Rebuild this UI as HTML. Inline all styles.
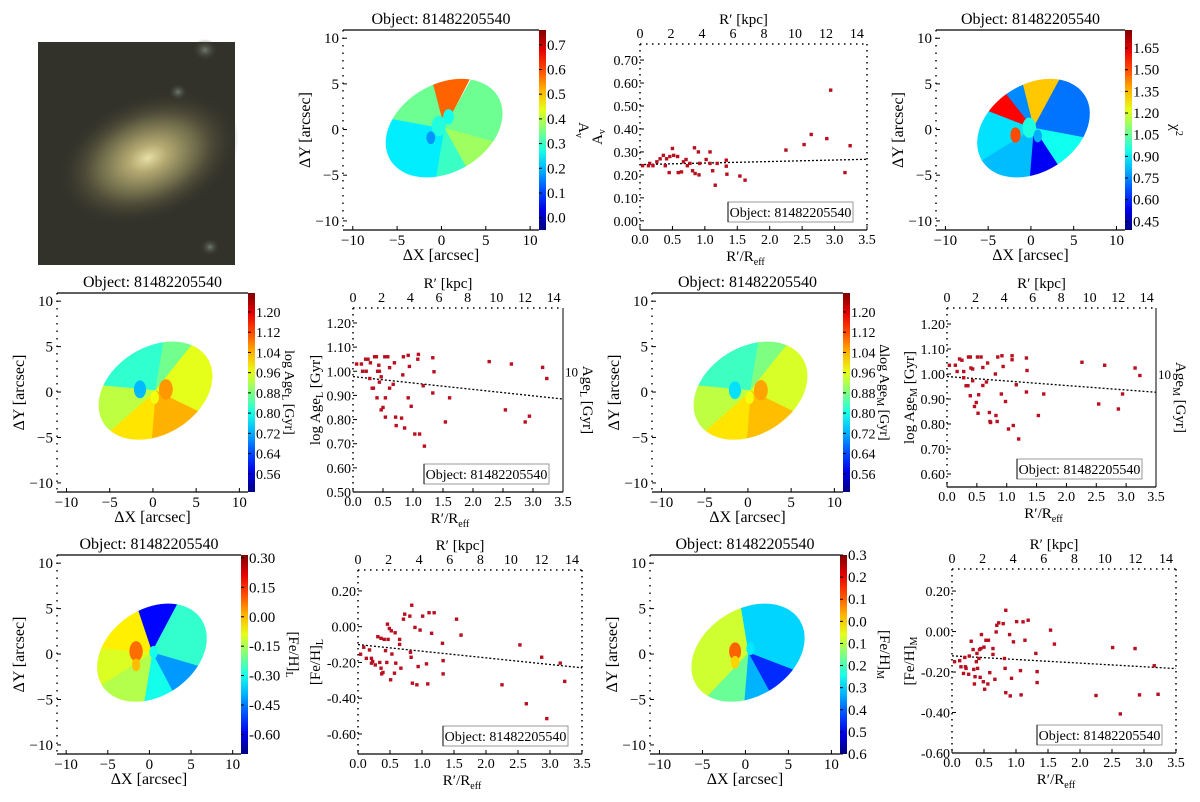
<!DOCTYPE html>
<html><head><meta charset="utf-8">
<style>
body{margin:0;background:#fff;}
svg{display:block;font-family:"Liberation Serif",serif;}
</style></head>
<body>
<svg id="fig" width="1200" height="802" viewBox="0 0 1200 802" xmlns="http://www.w3.org/2000/svg">
<defs>
<radialGradient id="galGrad" cx="50%" cy="50%" r="50%">
<stop offset="0%" stop-color="#e6dfa8"/>
<stop offset="20%" stop-color="#b5aa72"/>
<stop offset="55%" stop-color="#6a6748"/>
<stop offset="100%" stop-color="#343328" stop-opacity="0"/>
</radialGradient>
<radialGradient id="blobGrad" cx="50%" cy="50%" r="50%">
<stop offset="0%" stop-color="#6f7a72"/>
<stop offset="100%" stop-color="#343328" stop-opacity="0"/>
</radialGradient>
</defs>
<g>
<rect x="38" y="42" width="197" height="223" fill="#33322a"/>
<ellipse cx="148" cy="158" rx="95" ry="62" transform="rotate(-22 148 158)" fill="url(#galGrad)"/>
<ellipse cx="205" cy="50" rx="13" ry="11" fill="url(#blobGrad)"/>
<ellipse cx="178" cy="92" rx="10" ry="9" fill="url(#blobGrad)"/>
<ellipse cx="210" cy="247" rx="10" ry="9" fill="url(#blobGrad)"/>
</g>
</svg>
<script>
// ===== Scatter data =====
const avR=[0.04,0.13,0.15,0.2,0.26,0.31,0.36,0.39,0.41,0.45,0.46,0.5,0.52,0.58,0.59,0.64,0.67,0.71,0.73,0.77,0.81,0.84,0.85,0.9,0.91,0.92,1.02,1.08,1.08,1.12,1.16,1.19,1.33,1.33,1.34,1.54,1.62,2.25,2.53,2.64,2.88,2.94,3.16,3.24];
const avV=[0.24,0.24,0.25,0.24,0.257,0.27,0.285,0.24,0.27,0.21,0.28,0.315,0.285,0.28,0.21,0.213,0.257,0.267,0.24,0.25,0.218,0.318,0.206,0.3,0.2,0.25,0.267,0.3,0.25,0.218,0.155,0.25,0.264,0.238,0.203,0.195,0.177,0.308,0.332,0.376,0.358,0.569,0.21,0.327];
const avTrend=[0.245,0.268];
const avTicks=[0.00,0.10,0.20,0.30,0.40,0.50,0.60,0.70];

const ageLR=[0.06,0.14,0.16,0.21,0.22,0.25,0.29,0.28,0.32,0.34,0.36,0.39,0.41,0.4,0.43,0.44,0.44,0.47,0.47,0.5,0.53,0.54,0.54,0.58,0.61,0.61,0.67,0.69,0.71,0.72,0.81,0.83,0.84,0.86,0.92,0.92,0.94,0.97,1.03,1.08,1.09,1.11,1.17,1.19,1.33,1.33,1.35,1.61,1.54,2.27,2.54,2.64,2.87,2.94,3.16,3.23];
const ageLV=[1.03,1.03,1.0,1.05,1.0,1.05,1.035,0.97,0.93,0.93,1.06,1.06,1.0,0.89,1.025,1.0,0.955,0.977,0.84,0.85,1.06,0.81,0.89,1.06,1.015,0.93,0.946,1.035,0.81,0.775,0.806,0.985,1.06,0.765,0.89,1.066,1.02,0.855,0.74,1.05,1.07,0.74,0.94,0.69,1.056,0.91,0.998,0.89,0.79,1.04,0.84,1.03,0.79,0.814,1.016,0.97];
const ageLTrend=[0.978,0.885];
const ageLTicks=[0.50,0.60,0.70,0.80,0.90,1.00,1.10,1.20];

const ageMR=[0.04,0.14,0.17,0.21,0.25,0.28,0.28,0.32,0.35,0.36,0.39,0.39,0.4,0.43,0.43,0.46,0.49,0.51,0.52,0.53,0.57,0.6,0.6,0.66,0.68,0.71,0.72,0.73,0.81,0.82,0.84,0.85,0.91,0.92,0.94,0.98,1.03,1.09,1.09,1.11,1.16,1.2,1.33,1.33,1.34,1.53,1.62,2.26,2.54,2.64,2.87,2.94,3.15,3.23];
const ageMV=[1.035,1.035,1.01,1.06,1.055,1.01,0.985,0.953,0.953,1.068,1.068,0.913,1.024,1.02,0.973,0.87,0.886,1.068,0.843,0.917,1.068,0.954,1.026,0.968,1.044,0.846,0.81,0.806,1.0,0.834,0.81,1.068,0.92,1.073,1.03,0.89,0.78,1.073,1.057,0.794,0.957,0.74,1.064,0.928,1.014,0.834,0.92,1.047,0.88,1.035,0.86,0.92,1.024,0.994];
const ageMTrend=[0.99,0.927];
const ageMTicks=[0.60,0.70,0.80,0.90,1.00,1.10,1.20];

const fehLR=[0.04,0.09,0.13,0.18,0.21,0.21,0.23,0.27,0.31,0.34,0.36,0.36,0.37,0.39,0.41,0.43,0.45,0.46,0.47,0.49,0.51,0.52,0.53,0.57,0.58,0.59,0.65,0.65,0.67,0.71,0.73,0.81,0.82,0.83,0.84,0.85,0.89,0.92,0.94,0.97,1.01,1.07,1.09,1.11,1.15,1.19,1.32,1.33,1.33,1.54,1.61,2.25,2.53,2.63,2.87,2.95,3.16,3.23];
const fehLV=[-0.154,-0.115,-0.177,-0.13,-0.177,-0.204,-0.195,-0.214,-0.056,-0.2,-0.065,-0.232,-0.264,-0.256,-0.071,-0.134,-0.2,0.014,-0.071,-0.01,-0.297,-0.023,-0.153,-0.26,-0.034,-0.204,-0.071,-0.099,-0.232,0.042,0.07,0.059,-0.143,-0.171,0.12,-0.316,-0.004,-0.325,-0.223,-0.019,0.059,-0.208,-0.32,0.078,-0.037,0.078,-0.093,-0.19,-0.264,0.042,-0.047,-0.325,-0.102,-0.431,-0.171,-0.514,-0.204,-0.306];
const fehLTrend=[-0.1,-0.23];
const fehLTicks=[-0.60,-0.40,-0.20,0.00,0.20];

const fehMR=[0.04,0.12,0.14,0.18,0.2,0.21,0.22,0.26,0.27,0.3,0.33,0.34,0.35,0.36,0.38,0.39,0.4,0.42,0.43,0.44,0.45,0.46,0.49,0.5,0.51,0.53,0.56,0.57,0.59,0.64,0.64,0.67,0.69,0.7,0.73,0.8,0.82,0.83,0.84,0.84,0.9,0.91,0.93,0.96,1.01,1.07,1.08,1.11,1.14,1.19,1.31,1.33,1.33,1.54,1.6,2.25,2.51,2.63,2.86,2.93,3.16,3.22];
const fehMV=[-0.149,-0.144,-0.174,-0.207,-0.128,-0.174,-0.182,-0.211,-0.121,-0.048,-0.089,-0.187,-0.259,-0.223,-0.149,-0.108,-0.182,-0.133,-0.089,-0.226,-0.084,-0.015,-0.248,-0.077,-0.285,-0.043,-0.259,-0.043,-0.203,-0.113,-0.084,-0.236,-0.002,0.031,0.043,0.039,-0.133,-0.182,0.105,-0.302,-0.015,-0.318,-0.231,-0.051,0.049,-0.193,-0.313,0.048,-0.043,0.056,-0.108,-0.198,-0.252,0.007,-0.062,-0.316,-0.079,-0.407,-0.084,-0.313,-0.169,-0.31];
const fehMTrend=[-0.12,-0.183];
const fehMTicks=[-0.60,-0.40,-0.20,0.00,0.20];

const xTicks=[0.0,0.5,1.0,1.5,2.0,2.5,3.0,3.5];
const kpcTicks=[0,2,4,6,8,10,12,14];

// ===== Map data (sector angles in degrees, values in colour units) =====
const avSecA=[[62,105],[-15,62],[-60,-15],[-100,-60],[-190,-100],[105,170]];
const avSecV=[0.58,0.34,0.38,0.3,0.24,0.34];
const avBlobs=[[-0.3,0.4,0.8,0.28],[0.8,1.4,0.6,0.27],[-1.2,-0.9,0.5,0.17]];
const avCbTicks=[0.0,0.1,0.2,0.3,0.4,0.5,0.6,0.7];

const chiSecA=[[60,105],[-10,60],[-55,-10],[-95,-55],[-150,-95],[-200,-150],[130,160],[105,130]];
const chiSecV=[1.33,0.72,0.93,0.55,0.82,0.87,1.6,0.75];
const chiBlobs=[[-0.2,0.2,0.8,0.95],[-1.8,-0.6,0.6,1.5],[0.8,-0.7,0.5,0.8]];
const chiCbTicks=[0.45,0.60,0.75,0.90,1.05,1.20,1.35,1.50,1.65];

const ageLSecA=[[80,175],[50,80],[-25,50],[-95,-25],[-140,-95],[-185,-140]];
const ageLSecV=[0.82,0.87,0.96,1.04,1.0,0.93];
const ageLBlobs=[[-1.5,0.3,0.7,0.73],[1.5,0.3,0.8,1.06],[0.2,-0.6,0.5,0.97]];
const ageLCbTicks=[0.56,0.64,0.72,0.80,0.88,0.96,1.04,1.12,1.20];

const ageMSecA=[[80,175],[50,80],[-25,50],[-95,-25],[-140,-95],[-185,-140]];
const ageMSecV=[0.83,0.88,0.95,1.03,1.0,0.93];
const ageMBlobs=[[-1.5,0.2,0.7,0.76],[1.5,0.2,0.8,1.05],[0.2,-0.6,0.5,0.97]];
const ageMCbTicks=[0.56,0.64,0.72,0.80,0.88,0.96,1.04,1.12,1.20];

const fehLMapSecA=[[60,110],[-15,60],[-60,-15],[-100,-60],[-150,-100],[-185,-150],[110,175]];
const fehLMapSecV=[-0.57,-0.27,-0.42,-0.3,-0.14,-0.1,-0.05];
const fehLBlobs=[[-1.6,0.3,0.8,0.08],[-1.6,-1.2,0.5,0.0],[0.5,0.2,0.5,-0.3]];
const fehLCbTicks=[-0.60,-0.45,-0.30,-0.15,0.00,0.15,0.30];

const fehMMapSecA=[[-20,100],[-60,-20],[-95,-60],[-135,-95],[-260,-135]];
const fehMMapSecV=[-0.3,-0.45,-0.33,-0.17,-0.08];
const fehMBlobs=[[-1.2,0.3,0.7,0.1],[-1.2,-0.9,0.5,0.0],[0.6,0.6,0.5,-0.28]];
const fehMCbVals=[0.3,0.2,0.1,0.0,-0.1,-0.2,-0.3,-0.4,-0.5,-0.6];
const fehMCbLabels=["0.3","0.2","0.1","0.0","0.1","0.2","0.3","0.4","0.5","0.6"];

// ===== helpers =====
const NS="http://www.w3.org/2000/svg";
const fig=document.getElementById('fig');
function el(tag,attrs,parent){const e=document.createElementNS(NS,tag);for(const k in attrs)e.setAttribute(k,attrs[k]);(parent||fig).appendChild(e);return e;}
function txt(s,x,y,size,anchor,parent,extra){const t=el('text',Object.assign({x:x,y:y,'font-size':size,'text-anchor':anchor||'middle',fill:'#000'},extra||{}),parent);t.textContent=s;return t;}
function jet(t){t=Math.max(0,Math.min(1,t));const c=v=>Math.round(255*Math.max(0,Math.min(1,v)));
 return 'rgb('+c(1.5-Math.abs(4*t-3))+','+c(1.5-Math.abs(4*t-2))+','+c(1.5-Math.abs(4*t-1))+')';}
let gradId=0;

function scatter(c){
 const g=el('g',{});
 
 
 const sx=v=>c.x0+(v-0)/3.5*(c.x1-c.x0);
 const sy=v=>c.y1-(v-c.vmin)/(c.vmax-c.vmin)*(c.y1-c.y0);
 const sk=k=>c.x0+k/14.65*(c.x1-c.x0);
 el('line',{x1:c.x0,y1:c.y1,x2:c.x1,y2:c.y1,stroke:'#000','stroke-width':1.2},g);
 el('line',{x1:c.x0,y1:c.y0,x2:c.x1,y2:c.y0,stroke:'#000','stroke-width':1.5,'stroke-dasharray':'1.5,4.5'},g);
 el('line',{x1:c.x0,y1:c.y0,x2:c.x0,y2:c.y1,stroke:'#000','stroke-width':1.5,'stroke-dasharray':'1.5,4.5'},g);
 if(c.rightSolid){el('line',{x1:c.x1,y1:c.y0,x2:c.x1,y2:c.y1,stroke:'#000','stroke-width':1},g);}
 else el('line',{x1:c.x1,y1:c.y0,x2:c.x1,y2:c.y1,stroke:'#000','stroke-width':1.5,'stroke-dasharray':'1.5,4.5'},g);
 c.ticks.forEach(v=>{const y=sy(v);el('line',{x1:c.x0,y1:y,x2:c.x0+4,y2:y,stroke:'#000'},g);
  const t=txt(v.toFixed(2),c.x0-2,y+5,14,'end',g);});
 xTicks.forEach(v=>{const x=sx(v);el('line',{x1:x,y1:c.y1,x2:x,y2:c.y1-4,stroke:'#000'},g);
  const t=txt(v.toFixed(1),x,c.y1+14,14,'middle',g);});
 kpcTicks.forEach(v=>{const x=sk(v);
  const t=txt(String(v),x,c.y0-6,14,'middle',g);});
 let t=txt("R\u2032 [kpc]",(c.x0+c.x1)/2-10,c.y0-20,15,'middle',g);
 t=el('text',{x:(c.x0+c.x1)/2-8,y:c.y1+31,'font-size':15,'text-anchor':'middle'},g);
 t.innerHTML='R\u2032/R<tspan font-size="10" dy="4">eff</tspan>';
 
 const ly=(c.y0+c.y1)/2, lx=c.x0-(c.ylabOff||38);
 t=el('text',{x:lx,y:ly,'font-size':15,'text-anchor':'middle',transform:'rotate(-90 '+lx+' '+ly+')'},g);
 t.innerHTML=c.ylabel;
 if(c.rightLabel){
  t=txt('10',c.x1+2,sy(1.0)+5,13,'start',g);
  const rx=c.x1+20;
  t=el('text',{x:rx,y:ly,'font-size':15,'text-anchor':'middle',transform:'rotate(90 '+rx+' '+ly+')'},g);
  t.innerHTML=c.rightLabel;
 }
 const tl=el('line',{x1:sx(0),y1:sy(c.trend[0]),x2:sx(3.5),y2:sy(c.trend[1]),stroke:'#000','stroke-width':1.3,'stroke-dasharray':'2,2'},g);
 
 c.R.forEach((r,i)=>{const p=el('rect',{x:sx(r)-1.7,y:sy(c.V[i])-1.7,width:3.4,height:3.4,fill:'#b81020'},g);
  });
 const bw=125,bh=20,bx=c.x1-14-bw,by=c.y1-8-bh;
 const b=el('rect',{x:bx,y:by,width:bw,height:bh,fill:'#fff',stroke:'#999','stroke-width':1},g);
 
 el('line',{x1:bx,y1:by,x2:bx,y2:by+bh,stroke:'#000'},g);
 t=txt('Object: 81482205540',bx+bw/2,by+15,14,'middle',g);
}

function mapPanel(c){
 const g=el('g',{});
 
 
 const X0=-11.1,X1=11,Y0=-11,Y1=10.9;
 const px=v=>c.x0+(v-X0)/(X1-X0)*(c.x1-c.x0);
 const py=v=>c.y1-(v-Y0)/(Y1-Y0)*(c.y1-c.y0);
 const cn=(v)=> (v-c.cmin)/(c.cmax-c.cmin);
 const id='clip'+(gradId++);
 const cp=el('clipPath',{id:id},g);
 const ecx=0.3,ecy=0.15,a=7.0,bb=4.85,ang=28*Math.PI/180;
 const pts=[];for(let k=0;k<72;k++){const t=k/72*2*Math.PI;const ex=a*Math.cos(t),ey=bb*Math.sin(t);
  pts.push(px(ecx+ex*Math.cos(ang)-ey*Math.sin(ang))+','+py(ecy+ex*Math.sin(ang)+ey*Math.cos(ang)));}
 el('polygon',{points:pts.join(' ')},cp);
 const mg=el('g',{'clip-path':'url(#'+id+')'},g);
 c.secA.forEach((s,i)=>{const ps=[px(ecx)+','+py(ecy)];
  for(let d=s[0];d<=s[1]+0.01;d+=2.5){const r=d*Math.PI/180;ps.push(px(ecx+20*Math.cos(r))+','+py(ecy+20*Math.sin(r)));}
  const w=el('polygon',{points:ps.join(' '),fill:jet(cn(c.secV[i])),stroke:jet(cn(c.secV[i])),'stroke-width':0.8},mg);
  });
 c.blobs.forEach(b=>{const e=el('ellipse',{cx:px(b[0]),cy:py(b[1]),rx:px(b[2])-px(0),ry:(py(0)-py(b[2]))*1.4,fill:jet(cn(b[3]))},mg);
  });
 el('line',{x1:c.x0,y1:c.y1,x2:c.x1,y2:c.y1,stroke:'#000','stroke-width':1.2},g);
 el('line',{x1:c.x0,y1:c.y0,x2:c.x1,y2:c.y0,stroke:'#000','stroke-width':1.2},g);
 el('line',{x1:c.x0,y1:c.y0,x2:c.x0,y2:c.y1,stroke:'#000','stroke-width':1.4,'stroke-dasharray':'1.5,6'},g);
 [-10,-5,0,5,10].forEach(v=>{const x=px(v);el('line',{x1:x,y1:c.y1,x2:x,y2:c.y1-4,stroke:'#000'},g);
  const t=txt(v<0?'\u2212'+(-v):String(v),x,c.y1+15,15,'middle',g);
  const y=py(v);el('line',{x1:c.x0,y1:y,x2:c.x0+4,y2:y,stroke:'#000'},g);
  const t2=txt(v<0?'\u2212'+(-v):String(v),c.x0-4,y+5,15,'end',g);});
 let t=txt('Object: 81482205540',(c.x0+c.x1)/2,c.y0-6,16,'middle',g);
 t=txt('\u0394X [arcsec]',(c.x0+c.x1)/2,c.y1+30,16,'middle',g);
 const lx=c.x0-33,ly=(c.y0+c.y1)/2;
 t=txt('\u0394Y [arcsec]',lx,ly,16,'middle',g,{transform:'rotate(-90 '+lx+' '+ly+')'});
 const gid='cbg'+(gradId++);
 const lg=el('linearGradient',{id:gid,x1:0,y1:1,x2:0,y2:0},g);
 for(let k=0;k<=10;k++)el('stop',{offset:(k*10)+'%','stop-color':jet(k/10)},lg);
 const cb=el('rect',{x:c.x1,y:c.y0,width:7,height:c.y1-c.y0,fill:'url(#'+gid+')'},g);
 
 const cy=v=>c.y1-cn(v)*(c.y1-c.y0);
 const fs=c.cbFont||15;
 c.cbVals.forEach((v,i)=>{const y=cy(v);el('line',{x1:c.x1,y1:y,x2:c.x1+3,y2:y,stroke:'#000'},g);
  const tt=txt(c.cbLabels?c.cbLabels[i]:v.toFixed(c.cbDec),c.x1+8,y+5,fs,'start',g);
  });
 const rx=c.x1+c.cbLabelOff,ry=(c.y0+c.y1)/2;
 t=el('text',{x:rx,y:ry,'font-size':c.cbLabelFont||15,'text-anchor':'middle',transform:'rotate(90 '+rx+' '+ry+')'},g);
 t.innerHTML=c.cbLabel;
}

mapPanel({name:'av-map',x0:343,x1:539,y0:30,y1:230,secA:avSecA,secV:avSecV,blobs:avBlobs,cmin:-0.05,cmax:0.76,cbVals:avCbTicks,cbDec:1,cbLabel:'A<tspan font-size="10" dy="3">v</tspan>',cbLabelOff:40});
scatter({name:'av-profile',x0:640,x1:867,y0:44,y1:230,vmin:-0.04,vmax:0.77,ticks:avTicks,R:avR,V:avV,trend:avTrend,ylabel:'A<tspan font-size="10" dy="3">v</tspan>'});
mapPanel({name:'chi2-map',x0:936,x1:1125,y0:30,y1:230,secA:chiSecA,secV:chiSecV,blobs:chiBlobs,cmin:0.39,cmax:1.775,cbVals:chiCbTicks,cbDec:2,cbLabel:'\u03c7<tspan font-size="10" dy="-5">2</tspan>',cbLabelOff:46});

mapPanel({name:'age-l-map',x0:57,x1:248,y0:293,y1:492,secA:ageLSecA,secV:ageLSecV,blobs:ageLBlobs,cmin:0.488,cmax:1.275,cbVals:ageLCbTicks,cbDec:2,cbFont:14,cbLabelFont:14,cbLabel:'log Age<tspan font-size="10" dy="3">L</tspan><tspan dy="-3"> [Gyr]</tspan>',cbLabelOff:37});
scatter({name:'age-l-profile',x0:353,x1:563,y0:308,y1:492,vmin:0.5,vmax:1.262,ticks:ageLTicks,R:ageLR,V:ageLV,trend:ageLTrend,ylabOff:33,ylabel:'log Age<tspan font-size="10" dy="3">L</tspan><tspan dy="-3"> [Gyr]</tspan>',rightSolid:true,rightLabel:'Age<tspan font-size="10" dy="3">L</tspan><tspan dy="-3"> [Gyr]</tspan>'});
mapPanel({name:'age-m-map',x0:652,x1:843,y0:293,y1:492,secA:ageMSecA,secV:ageMSecV,blobs:ageMBlobs,cmin:0.488,cmax:1.275,cbVals:ageMCbTicks,cbDec:2,cbFont:14,cbLabelFont:14,cbLabel:'\u0394log Age<tspan font-size="10" dy="3">M</tspan><tspan dy="-3"> [Gyr]</tspan>',cbLabelOff:37});
scatter({name:'age-m-profile',x0:947,x1:1156,y0:308,y1:487,vmin:0.548,vmax:1.264,ticks:ageMTicks,R:ageMR,V:ageMV,trend:ageMTrend,ylabOff:33,ylabel:'log Age<tspan font-size="10" dy="3">M</tspan><tspan dy="-3"> [Gyr]</tspan>',rightSolid:true,rightLabel:'Age<tspan font-size="10" dy="3">M</tspan><tspan dy="-3"> [Gyr]</tspan>'});

mapPanel({name:'feh-l-map',x0:57,x1:241,y0:555,y1:754,secA:fehLMapSecA,secV:fehLMapSecV,blobs:fehLBlobs,cmin:-0.70,cmax:0.315,cbVals:fehLCbTicks,cbDec:2,cbLabel:'[Fe/H]<tspan font-size="10" dy="3">L</tspan>',cbLabelOff:48});
scatter({name:'feh-l-profile',x0:358,x1:582,y0:570,y1:754,vmin:-0.712,vmax:0.317,ticks:fehLTicks,R:fehLR,V:fehLV,trend:fehLTrend,ylabel:'[Fe/H]<tspan font-size="10" dy="3">L</tspan>'});
mapPanel({name:'feh-m-map',x0:650,x1:840,y0:555,y1:754,secA:fehMMapSecA,secV:fehMMapSecV,blobs:fehMBlobs,cmin:-0.6,cmax:0.3,cbVals:fehMCbVals,cbLabels:fehMCbLabels,cbLabel:'[Fe/H]<tspan font-size="10" dy="3">M</tspan>',cbLabelOff:40});
scatter({name:'feh-m-profile',x0:952,x1:1176,y0:569,y1:753,vmin:-0.6,vmax:0.309,ticks:fehMTicks,R:fehMR,V:fehMV,trend:fehMTrend,ylabel:'[Fe/H]<tspan font-size="10" dy="3">M</tspan>'});
</script>
</body></html>
